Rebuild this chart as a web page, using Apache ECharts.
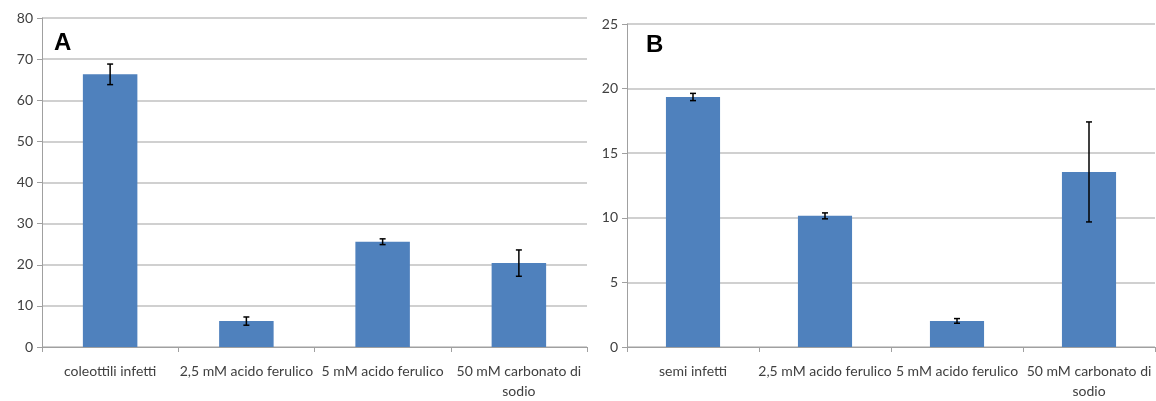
<!DOCTYPE html>
<html>
<head>
<meta charset="utf-8">
<script src="https://cdn.jsdelivr.net/npm/echarts@6/dist/echarts.min.js"></script>
<style>
  html, body { margin: 0; padding: 0; background: #fff; }
  #main { width: 1156px; height: 401px; }
</style>
</head>
<body>
<div id="main"></div>
<script>
var catA = ['coleottili infetti', '2,5 mM acido ferulico', '5 mM acido ferulico', '50 mM carbonato di\nsodio'];
var valA = [66.3, 6.3, 25.6, 20.4];
var errA = [2.5, 1.0, 0.7, 3.2];

var catB = ['semi infetti', '2,5 mM acido ferulico', '5 mM acido ferulico', '50 mM carbonato di\nsodio'];
var valB = [19.35, 10.15, 2.02, 13.55];
var errB = [0.28, 0.23, 0.18, 3.87];

var barColor = '#4f81bd';
var gridColor = '#c0c0c0';
var textColor = '#404040';
var font = 'Lato';

function errData(vals, errs) {
    return vals.map(function (v, i) { return [i, v - errs[i], v + errs[i]]; });
}

function errSeries(idx, vals, errs) {
    return {
        type: 'custom',
        xAxisIndex: idx,
        yAxisIndex: idx,
        data: errData(vals, errs),
        z: 10,
        renderItem: function (params, api) {
            var lo = api.coord([api.value(0), api.value(1)]);
            var hi = api.coord([api.value(0), api.value(2)]);
            var w = 3;
            var st = { stroke: '#000', lineWidth: 1.5 };
            return {
                type: 'group',
                children: [
                    { type: 'line', shape: { x1: lo[0], y1: lo[1], x2: hi[0], y2: hi[1] }, style: st },
                    { type: 'line', shape: { x1: lo[0] - w, y1: lo[1], x2: lo[0] + w, y2: lo[1] }, style: st },
                    { type: 'line', shape: { x1: hi[0] - w, y1: hi[1], x2: hi[0] + w, y2: hi[1] }, style: st }
                ]
            };
        }
    };
}

function xAx(idx, cats) {
    return {
        type: 'category',
        gridIndex: idx,
        data: cats,
        axisLine: { lineStyle: { color: '#a0a0a0', width: 1 } },
        axisTick: { show: true, length: 5, lineStyle: { color: '#a0a0a0' } },
        axisLabel: { color: textColor, fontFamily: font, fontSize: 14, margin: 14, interval: 0, lineHeight: 20 }
    };
}

function yAx(idx, max, step) {
    return {
        type: 'value',
        gridIndex: idx,
        min: 0,
        max: max,
        interval: step,
        axisLine: { show: true, lineStyle: { color: '#a0a0a0', width: 1 } },
        axisTick: { show: true, length: 5, lineStyle: { color: '#a0a0a0' } },
        splitLine: { lineStyle: { color: gridColor, width: 1.5 } },
        axisLabel: { color: textColor, fontFamily: font, fontSize: 14, margin: 9 }
    };
}

var option = {
    animation: false,
    title: [
        { text: 'A', left: 49, top: 26, textStyle: { fontFamily: 'Liberation Sans', fontWeight: 'bold', fontSize: 24, color: '#000' } },
        { text: 'B', left: 641, top: 28, textStyle: { fontFamily: 'Liberation Sans', fontWeight: 'bold', fontSize: 24, color: '#000' } }
    ],
    grid: [
        { left: 42, right: 569, top: 18, bottom: 52 },
        { left: 627, right: 1, top: 24, bottom: 49 }
    ],
    xAxis: [xAx(0, catA), xAx(1, catB)],
    yAxis: [yAx(0, 80, 10), yAx(1, 25, 5)],
    series: [
        { type: 'bar', xAxisIndex: 0, yAxisIndex: 0, data: valA, barWidth: '40%', itemStyle: { color: barColor } },
        errSeries(0, valA, errA),
        { type: 'bar', xAxisIndex: 1, yAxisIndex: 1, data: valB, barWidth: '41%', itemStyle: { color: barColor } },
        errSeries(1, valB, errB)
    ]
};

var chart = echarts.init(document.getElementById('main'));
chart.setOption(option);
</script>
</body>
</html>
